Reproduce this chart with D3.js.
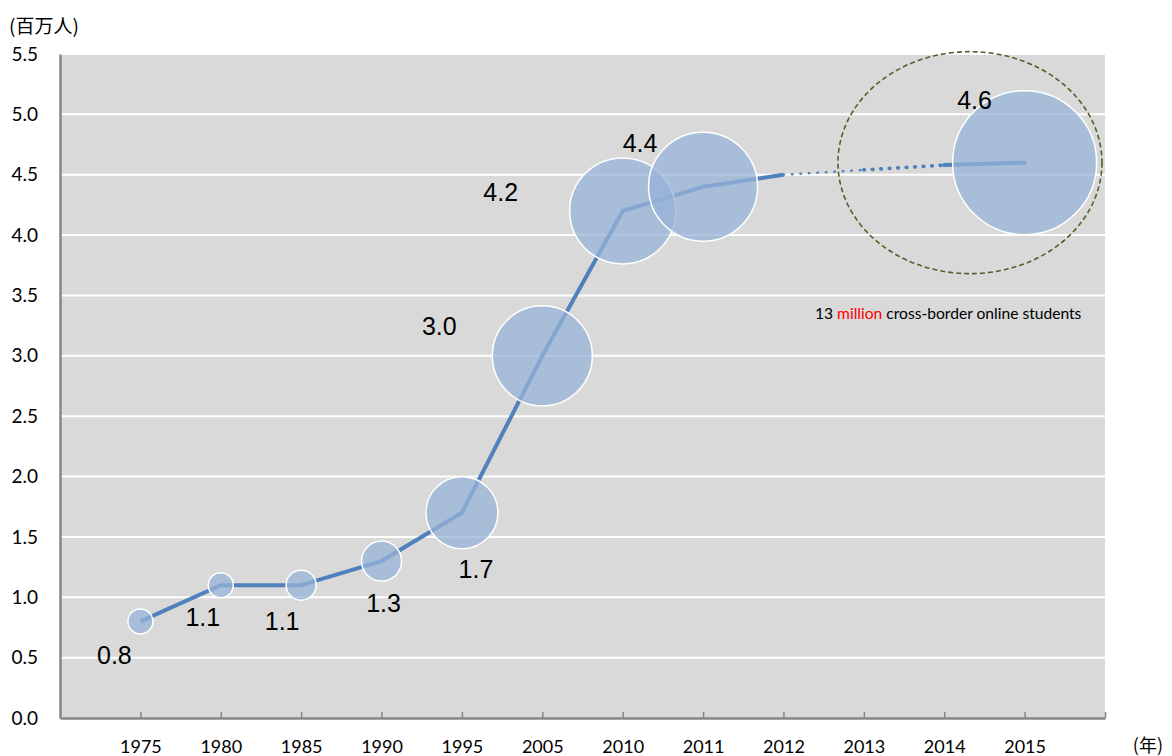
<!DOCTYPE html>
<html>
<head>
<meta charset="utf-8">
<script src="https://cdn.jsdelivr.net/npm/d3@7/dist/d3.min.js"></script>
<style>
  html, body { margin: 0; padding: 0; background: #ffffff; }
  svg { display: block; }
</style>
</head>
<body>
<svg id="chart" width="1172" height="756"></svg>
<script>
// ---------------- data ----------------
const years = ["1975", "1980", "1985", "1990", "1995", "2005", "2010", "2011", "2012", "2013", "2014", "2015"];
const bubbleYears = ["1975", "1980", "1985", "1990", "1995", "2005", "2010", "2011", "2015"];
const bubbleValues = [0.8, 1.1, 1.1, 1.3, 1.7, 3.0, 4.2, 4.4, 4.6];
const bubbleSizes = [12.5, 12.5, 15, 20, 36, 50, 53, 54.5, 72];
const bubbleLabels = ["0.8", "1.1", "1.1", "1.3", "1.7", "3.0", "4.2", "4.4", "4.6"];
const solidYears = ["1975", "1980", "1985", "1990", "1995", "2005", "2010", "2011", "2012"];
const solidValues = [0.8, 1.1, 1.1, 1.3, 1.7, 3.0, 4.2, 4.4, 4.5];
const dotYearsA = ["2012", "2013"];
const dotValuesA = [4.5, 4.54];
const dotYearsB = ["2013", "2014"];
const dotValuesB = [4.54, 4.58];
const tailYears = ["2014", "2015"];
const tailValues = [4.58, 4.6];
const yTicks = [0, 0.5, 1.0, 1.5, 2.0, 2.5, 3.0, 3.5, 4.0, 4.5, 5.0, 5.5];
const yUnit = "(百万人)";
const xUnit = "(年)";
const noteParts = [["13 ", "#000000"], ["million", "#ff0000"], [" cross-border online students", "#000000"]];

// ---------------- layout ----------------
const M = { left: 60, right: 1105, top: 54, bottom: 718 };
const labelOffsets = [[-26, 34], [-18, 32], [-19, 36], [2, 42], [14, 56], [-103, -30], [-122, -19], [-63, -44], [-50, -63]];
const tickFont = "Lato, 'Open Sans', sans-serif";
const cjkFont = "'Noto Sans CJK JP', 'Noto Sans CJK SC', sans-serif";
const lineColor = "#4f81bd";

const svg = d3.select("#chart");

const x = d3.scaleLinear().domain([0, years.length + 1]).range([M.left, M.right]);
const xi = y => x(years.indexOf(y) + 1);
const yS = d3.scaleLinear().domain([0, 5.5]).range([M.bottom, M.top]);
const rS = d3.scaleLinear().domain([0, 72]).range([0, 72]);

// plot background
svg.append("rect")
  .attr("x", M.left).attr("y", M.top)
  .attr("width", M.right - M.left).attr("height", M.bottom - M.top)
  .attr("fill", "#d9d9d9");

// gridlines
svg.append("g").selectAll("line")
  .data(yTicks.filter(d => d > 0))
  .join("line")
  .attr("x1", M.left).attr("x2", M.right)
  .attr("y1", d => yS(d)).attr("y2", d => yS(d))
  .attr("stroke", "#ffffff").attr("stroke-width", 2);

// y axis
const yAxis = d3.axisLeft(yS).tickValues(yTicks).tickFormat(d3.format(".1f")).tickSize(0).tickPadding(22);
const gy = svg.append("g").attr("transform", `translate(${M.left},0)`).call(yAxis);
gy.select(".domain").attr("stroke", "#868686").attr("stroke-width", 2.5);
gy.selectAll("text").attr("font-family", tickFont).attr("font-size", 19).attr("fill", "#000");

// x axis
const xAxis = d3.axisBottom(x)
  .tickValues(d3.range(1, years.length + 2))
  .tickFormat(i => years[i - 1] || "")
  .tickSizeInner(-6).tickSizeOuter(0).tickPadding(22);
const gx = svg.append("g").attr("transform", `translate(0,${M.bottom})`).call(xAxis);
gx.select(".domain").attr("stroke", "#868686").attr("stroke-width", 2.5);
gx.selectAll(".tick line").attr("stroke", "#868686").attr("stroke-width", 1.5);
gx.selectAll("text").attr("font-family", tickFont).attr("font-size", 18).attr("fill", "#000");

// units
svg.append("text").attr("x", 9).attr("y", 24).attr("dominant-baseline", "central")
  .attr("font-family", cjkFont).attr("font-size", 19).attr("fill", "#000").text(yUnit);
svg.append("text").attr("x", 1163).attr("y", 744).attr("text-anchor", "end").attr("dominant-baseline", "central")
  .attr("font-family", cjkFont).attr("font-size", 18).attr("fill", "#000").text(xUnit);

// lines
const lineGen = d3.line().x(d => xi(d[0])).y(d => yS(d[1]));
svg.append("path").datum(d3.zip(solidYears, solidValues)).attr("d", lineGen)
  .attr("fill", "none").attr("stroke", lineColor).attr("stroke-width", 4).attr("stroke-linejoin", "round");
svg.append("path").datum(d3.zip(dotYearsA, dotValuesA)).attr("d", lineGen)
  .attr("fill", "none").attr("stroke", lineColor).attr("stroke-width", 2.5)
  .attr("stroke-linecap", "round").attr("stroke-dasharray", "0.5,8");
svg.append("path").datum(d3.zip(dotYearsB, dotValuesB)).attr("d", lineGen)
  .attr("fill", "none").attr("stroke", lineColor).attr("stroke-width", 3.8)
  .attr("stroke-linecap", "round").attr("stroke-dasharray", "0.5,8");
svg.append("path").datum(d3.zip(tailYears, tailValues)).attr("d", lineGen)
  .attr("fill", "none").attr("stroke", lineColor).attr("stroke-width", 4).attr("stroke-linecap", "round");

// bubbles
const bubbles = bubbleYears.map((yr, i) => ({ yr, v: bubbleValues[i], s: bubbleSizes[i], lab: bubbleLabels[i], off: labelOffsets[i] }));
svg.append("g").selectAll("circle").data(bubbles).join("circle")
  .attr("cx", d => xi(d.yr)).attr("cy", d => yS(d.v)).attr("r", d => rS(d.s))
  .attr("fill", "#95b3d7").attr("fill-opacity", 0.75)
  .attr("stroke", "#ffffff").attr("stroke-width", 1.5);

// value labels
svg.append("g").selectAll("text").data(bubbles).join("text")
  .attr("x", d => xi(d.yr) + d.off[0]).attr("y", d => yS(d.v) + d.off[1])
  .attr("text-anchor", "middle").attr("dominant-baseline", "central")
  .attr("font-family", "'Liberation Sans', Arial, sans-serif").attr("font-size", 25).attr("fill", "#000")
  .text(d => d.lab);

// dashed ellipse
svg.append("ellipse")
  .attr("cx", x(11.32)).attr("cy", yS(4.6)).attr("rx", 132).attr("ry", 111)
  .attr("fill", "none").attr("stroke", "#4f6228").attr("stroke-width", 1.6).attr("stroke-dasharray", "5,3");

// note
const note = svg.append("text").attr("x", 815).attr("y", 313).attr("dominant-baseline", "central")
  .attr("font-family", tickFont).attr("font-size", 15.6);
note.selectAll("tspan").data(noteParts).join("tspan").attr("fill", d => d[1]).text(d => d[0]);
</script>
</body>
</html>
